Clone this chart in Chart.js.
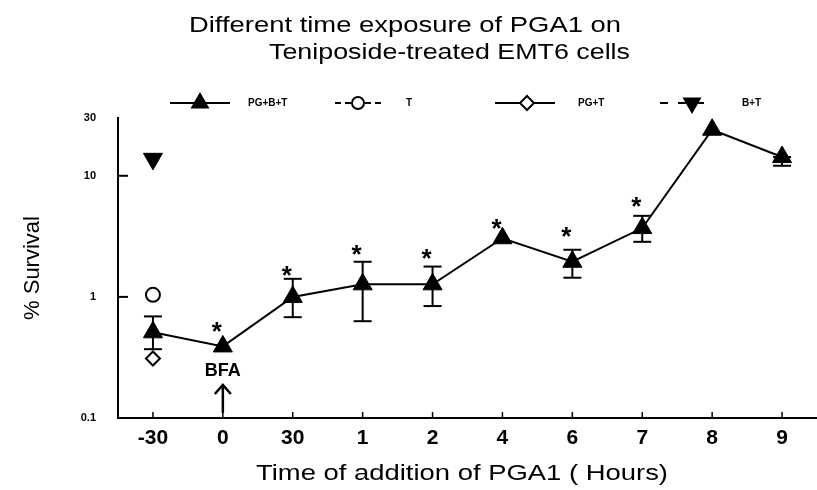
<!DOCTYPE html>
<html><head><meta charset="utf-8">
<script src="https://cdn.jsdelivr.net/npm/chart.js@4/dist/chart.umd.min.js"></script>
<style>html,body{margin:0;padding:0;background:#fff}#c{display:block}</style>
</head><body><canvas id="c" width="817" height="490"></canvas>
<script>
// ---- data ----
const categories = ['-30', '0', '30', '1', '2', '4', '6', '7', '8', '9'];
const pgbt      = [0.51, 0.39, 1.0, 1.27, 1.27, 3.05, 1.95, 3.7, 24, 14.3];
const pgbtHigh  = [0.69, null, 1.41, 1.95, 1.78, null, 2.45, 4.67, null, 14.3];
const pgbtLow   = [0.37, null, 0.68, 0.63, 0.84, null, 1.44, 2.85, null, 12.1];
const tOnly     = [1.04, null, null, null, null, null, null, null, null, null];
const pgt       = [0.31, null, null, null, null, null, null, null, null, null];
const bt        = [13.8, null, null, null, null, null, null, null, null, null];
const starValues = [null, 0.59, 1.70, 2.54, 2.35, 4.17, 3.58, 6.33, null, null];
const yTicks = [0.1, 1, 10, 30];
const innerYTicks = [1, 10];
const titleLines = ['Different time exposure of PGA1 on', 'Teniposide-treated EMT6 cells'];
const legendLabels = ['PG+B+T', 'T', 'PG+T', 'B+T'];
const xTitle = 'Time of addition of PGA1 ( Hours)';
const yTitle = '% Survival';
const bfaLabel = 'BFA';

const FONT = 'Arial, "Liberation Sans", sans-serif';

// draw text stretched horizontally to span [x1, x2]
function stretchText(ctx, text, x1, x2, baseline) {
  const w = ctx.measureText(text).width;
  ctx.save();
  ctx.translate(x1, baseline);
  ctx.scale((x2 - x1) / w, 1);
  ctx.textAlign = 'left'; ctx.textBaseline = 'alphabetic';
  ctx.fillText(text, 0, 0);
  ctx.restore();
}

const extras = {
  id: 'extras',
  beforeDatasetsDraw(chart) {
    const ctx = chart.ctx, xs = chart.scales.x, ys = chart.scales.y;
    ctx.save();
    ctx.strokeStyle = '#000'; ctx.lineWidth = 2;
    for (let i = 0; i < categories.length; i++) {
      if (pgbtHigh[i] == null && pgbtLow[i] == null) continue;
      const x = xs.getPixelForValue(i);
      const y1 = ys.getPixelForValue(pgbtHigh[i]);
      const y2 = ys.getPixelForValue(pgbtLow[i]);
      ctx.beginPath(); ctx.moveTo(x, y1); ctx.lineTo(x, y2); ctx.stroke();
      ctx.beginPath(); ctx.moveTo(x - 9, y1); ctx.lineTo(x + 9, y1); ctx.stroke();
      ctx.beginPath(); ctx.moveTo(x - 9, y2); ctx.lineTo(x + 9, y2); ctx.stroke();
    }
    // inner ticks
    ctx.lineWidth = 2;
    innerYTicks.forEach(v => {
      const y = ys.getPixelForValue(v);
      ctx.beginPath(); ctx.moveTo(chart.chartArea.left, y); ctx.lineTo(chart.chartArea.left + 10, y); ctx.stroke();
    });
    ctx.lineWidth = 1.5;
    for (let i = 0; i < categories.length; i++) {
      const x = xs.getPixelForValue(i);
      ctx.beginPath(); ctx.moveTo(x, chart.chartArea.bottom); ctx.lineTo(x, chart.chartArea.bottom - 6); ctx.stroke();
    }
    ctx.restore();
  },
  afterDraw(chart) {
    const ctx = chart.ctx, xs = chart.scales.x, ys = chart.scales.y;
    ctx.save();
    ctx.fillStyle = '#000'; ctx.strokeStyle = '#000';
    // title
    ctx.font = '22px ' + FONT;
    stretchText(ctx, titleLines[0], 189, 621, 32);
    stretchText(ctx, titleLines[1], 269, 630, 59);
    // x axis title
    stretchText(ctx, xTitle, 256, 668, 480);
    // stars
    ctx.font = 'bold 26px ' + FONT; ctx.textAlign = 'center'; ctx.textBaseline = 'alphabetic';
    for (let i = 0; i < categories.length; i++) {
      if (starValues[i] == null) continue;
      ctx.fillText('*', xs.getPixelForValue(i) - 6, ys.getPixelForValue(starValues[i]) + 15);
    }
    // BFA + arrow
    const bx = xs.getPixelForValue(1);
    const bottom = chart.chartArea.bottom;
    ctx.font = 'bold 18px ' + FONT; ctx.textBaseline = 'middle';
    ctx.fillText(bfaLabel, bx, bottom - 47);
    ctx.lineWidth = 2.5;
    ctx.beginPath(); ctx.moveTo(bx, bottom - 5); ctx.lineTo(bx, bottom - 33); ctx.stroke();
    ctx.beginPath(); ctx.moveTo(bx - 8, bottom - 24); ctx.lineTo(bx, bottom - 33); ctx.lineTo(bx + 8, bottom - 24); ctx.stroke();
    // legend
    const ly = 103;
    const items = [
      {x1: 170, x2: 230, mx: 200, dash: [], style: 'triangle', r: 9, fill: '#000', rot: 0, tx: 248},
      {x1: 335, x2: 383, mx: 358, dash: [6, 4], style: 'circle', r: 6, fill: '#fff', rot: 0, tx: 406},
      {x1: 495, x2: 555, mx: 527, dash: [], style: 'rectRot', r: 7, fill: '#fff', rot: 0, tx: 578},
      {x1: 660, x2: 708, mx: 692, dash: [8, 10], style: 'triangle', r: 9, fill: '#000', rot: 180, tx: 742}
    ];
    ctx.font = 'bold 10px ' + FONT; ctx.textAlign = 'left'; ctx.textBaseline = 'middle';
    items.forEach((it, k) => {
      ctx.setLineDash(it.dash); ctx.lineWidth = 2;
      ctx.beginPath(); ctx.moveTo(it.x1, ly); ctx.lineTo(it.x2, ly); ctx.stroke();
      ctx.setLineDash([]);
      ctx.fillStyle = it.fill; ctx.lineWidth = 2;
      Chart.helpers.drawPoint(ctx, {pointStyle: it.style, radius: it.r, rotation: it.rot, borderWidth: 2}, it.mx, ly);
      ctx.fillStyle = '#000';
      ctx.fillText(legendLabels[k], it.tx, ly);
    });
    ctx.restore();
  }
};

new Chart(document.getElementById('c'), {
  type: 'line',
  data: {
    labels: categories,
    datasets: [
      {label: legendLabels[0], data: pgbt, borderColor: '#000', borderWidth: 2, pointStyle: 'triangle',
       pointRadius: 11, pointBackgroundColor: '#000', pointBorderColor: '#000', pointBorderWidth: 1, spanGaps: true},
      {label: legendLabels[1], data: tOnly, showLine: false, pointStyle: 'circle', pointRadius: 7,
       pointBackgroundColor: '#fff', pointBorderColor: '#000', pointBorderWidth: 2},
      {label: legendLabels[2], data: pgt, showLine: false, pointStyle: 'rectRot', pointRadius: 7,
       pointBackgroundColor: '#fff', pointBorderColor: '#000', pointBorderWidth: 2},
      {label: legendLabels[3], data: bt, showLine: false, pointStyle: 'triangle', rotation: 180, pointRadius: 11,
       pointBackgroundColor: '#000', pointBorderColor: '#000', pointBorderWidth: 1}
    ]
  },
  options: {
    responsive: false, animation: false, devicePixelRatio: 1,
    layout: {autoPadding: false, padding: {top: 118, left: 0, right: 0, bottom: 0}},
    plugins: {legend: {display: false}, tooltip: {enabled: false}, title: {display: false}},
    scales: {
      x: {
        type: 'category', offset: true,
        grid: {display: false, drawTicks: false},
        border: {display: true, color: '#000', width: 2},
        ticks: {color: '#000', font: {family: FONT, size: 21, weight: 'bold'}, padding: 8, maxRotation: 0},
        title: {display: false},
        afterFit(s) { s.height = 72; }
      },
      y: {
        type: 'logarithmic', min: 0.1, max: 30,
        grid: {display: false, drawTicks: false},
        border: {display: true, color: '#000', width: 2},
        afterBuildTicks(s) { s.ticks = yTicks.map(v => ({value: v})); },
        ticks: {color: '#000', font: {family: FONT, size: 11, weight: 'bold'}, padding: 22,
                callback: v => String(v)},
        title: {display: true, text: yTitle, color: '#000', font: {family: FONT, size: 22}, padding: {top: 20, bottom: 0}},
        afterFit(s) { s.width = 118; }
      }
    }
  },
  plugins: [extras]
});
</script></body></html>
